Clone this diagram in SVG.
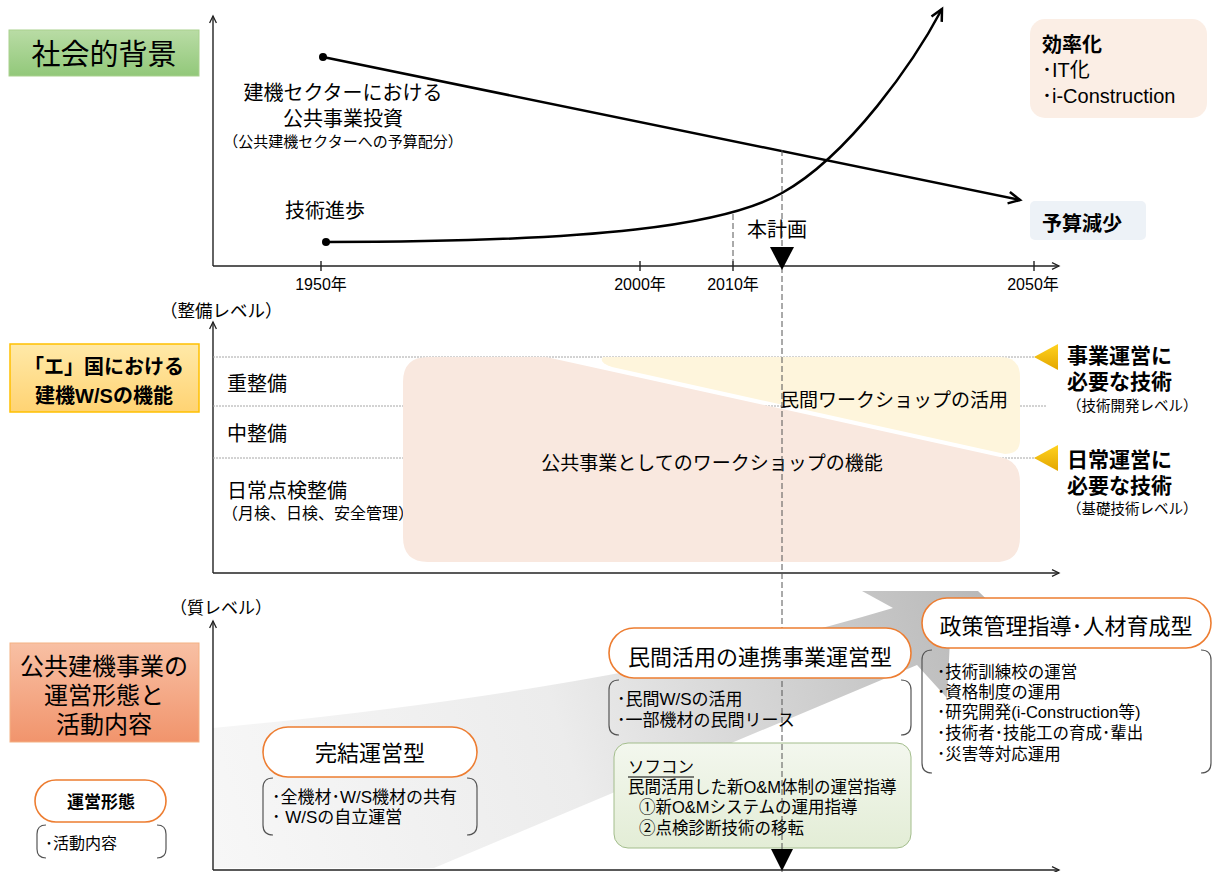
<svg xmlns="http://www.w3.org/2000/svg" width="1213" height="872" viewBox="0 0 1213 872">
<defs>
<style>
text{font-family:"Liberation Sans","Noto Sans CJK JP",sans-serif;fill:#000}
.m{text-anchor:middle}
.b{font-weight:bold}
.axis{stroke:#222;stroke-width:1.4;fill:none}
.dot{stroke:#a6a6a6;stroke-width:1;stroke-dasharray:2 1;fill:none}
.dash{stroke:#555;stroke-width:1;stroke-dasharray:6 3;fill:none}
.pill{fill:#fff;stroke:#ed7d31;stroke-width:1.6}
.brk{fill:none;stroke:#555;stroke-width:1.2}
.curve{stroke:#000;stroke-width:2.5;fill:none}
</style>
<marker id="ax" viewBox="0 0 8 8" refX="7.5" refY="4" markerWidth="8" markerHeight="8" markerUnits="userSpaceOnUse" orient="auto" overflow="visible">
<path d="M0.5,0.6 L7.5,4 L0.5,7.4" fill="none" stroke="#222" stroke-width="1.3"/>
</marker>
<marker id="ar" viewBox="0 0 14 14" refX="12.5" refY="7" markerWidth="14" markerHeight="14" markerUnits="userSpaceOnUse" orient="auto" overflow="visible">
<path d="M1,1.2 L12.5,7 L1,12.8" fill="none" stroke="#000" stroke-width="2.5"/>
</marker>
<linearGradient id="gGreen" x1="0" y1="0" x2="0" y2="1"><stop offset="0" stop-color="#b9dca5"/><stop offset="1" stop-color="#92c87a"/></linearGradient>
<linearGradient id="gGold" x1="0" y1="0" x2="0" y2="1"><stop offset="0" stop-color="#ffe9a8"/><stop offset="1" stop-color="#ffd373"/></linearGradient>
<linearGradient id="gSalmon" x1="0" y1="0" x2="0" y2="1"><stop offset="0" stop-color="#f8c0a4"/><stop offset="1" stop-color="#f1946c"/></linearGradient>
<linearGradient id="gGray" gradientUnits="userSpaceOnUse" x1="213" y1="850" x2="990" y2="600"><stop offset="0" stop-color="#f7f7f7"/><stop offset="0.45" stop-color="#ececec"/><stop offset="0.85" stop-color="#c6c6c6"/><stop offset="1" stop-color="#b8b8b8"/></linearGradient>
<linearGradient id="gTri" x1="0" y1="0" x2="0" y2="1"><stop offset="0" stop-color="#ffd21f"/><stop offset="1" stop-color="#e3a600"/></linearGradient>
<linearGradient id="gSof" x1="0" y1="0" x2="0" y2="1"><stop offset="0" stop-color="#f3f7ee"/><stop offset="1" stop-color="#e3edd6"/></linearGradient>
</defs>

<!-- ===== Top section: social background ===== -->
<g id="label-social">
<rect x="9" y="30" width="190" height="46" fill="url(#gGreen)" stroke="#a9d18e" stroke-width="1"/>
<text x="104" y="65" class="m" font-size="29">社会的背景</text>
</g>

<g id="top-axes">
<line class="axis" x1="213" y1="266" x2="213" y2="16" marker-end="url(#ax)"/>
<line class="axis" x1="213" y1="266" x2="1059" y2="266" marker-end="url(#ax)"/>
<path class="axis" d="M321,261V271M640,261V271M733,261V271M1034,261V271"/>
<text x="321" y="290" class="m" font-size="16">1950年</text>
<text x="640" y="290" class="m" font-size="16">2000年</text>
<text x="733" y="290" class="m" font-size="16">2010年</text>
<text x="1033" y="290" class="m" font-size="16">2050年</text>
</g>

<g id="connectors">
<line class="dash" x1="733" y1="214" x2="733" y2="266"/>
<path id="budget-line" class="curve" d="M323,57 L1020,200" marker-end="url(#ar)"/>
<circle cx="323" cy="57" r="4" fill="#000"/>
<path id="tech-line" class="curve" d="M326,242 C600,242 725,225 782,193 C850,155 915,60 942,9" marker-end="url(#ar)"/>
<circle cx="326" cy="242" r="4" fill="#000"/>
</g>

<g id="budget-label">
<text x="343" y="100" class="m" font-size="20">建機セクターにおける</text>
<text x="343" y="126" class="m" font-size="20">公共事業投資</text>
<text x="343" y="147" class="m" font-size="15" fill="#222">（公共建機セクターへの予算配分）</text>
</g>
<g id="tech-label">
<text x="325" y="218" class="m" font-size="20">技術進歩</text>
</g>

<g id="box-efficiency">
<rect x="1030" y="19" width="177" height="99" rx="15" fill="#fbeee5"/>
<text x="1042" y="52" font-size="20" class="b">効率化</text>
<text x="1042" y="77" font-size="20" fill="#333">･IT化</text>
<text x="1042" y="103" font-size="20" fill="#333">･i-Construction</text>
</g>
<g id="box-budget">
<rect x="1030" y="201" width="116" height="39" rx="5" fill="#edf2f7"/>
<text x="1042" y="231" font-size="20" class="b">予算減少</text>
</g>

<!-- ===== Middle section ===== -->
<g id="label-function">
<rect x="10" y="344" width="189" height="68" fill="url(#gGold)" stroke="#ffc000" stroke-width="1.5"/>
<text x="104" y="374" class="m b" font-size="20">「エ」国における</text>
<text x="104" y="403" class="m b" font-size="20">建機W/Sの機能</text>
</g>

<g id="mid-axes">
<text x="160" y="317" font-size="17.5">（整備レベル）</text>
<line class="axis" x1="213" y1="573" x2="213" y2="322" marker-end="url(#ax)"/>
<line class="axis" x1="213" y1="573" x2="1059" y2="573" marker-end="url(#ax)"/>
<line class="dot" x1="213" y1="357" x2="1036" y2="357"/>
<line class="dot" x1="213" y1="406" x2="1046" y2="406"/>
<line class="dot" x1="213" y1="458" x2="1036" y2="458"/>
</g>

<g id="level-labels">
<text x="227" y="391" font-size="20">重整備</text>
<text x="227" y="441" font-size="20">中整備</text>
<text x="227" y="498" font-size="20">日常点検整備</text>
<text x="222" y="519" font-size="16">（月検、日検、安全管理）</text>
</g>

<g id="area-private">
<path d="M603,357 L1000,357 Q1020,357 1020,377 L1020,440 Q1020,454 1005,454 L612,367 Q598,362 603,357 Z" fill="#fef5dc"/>
<text x="1008" y="407" font-size="19" text-anchor="end">民間ワークショップの活用</text>
</g>
<g id="area-public">
<path d="M428,357 L546,357 L1000,457 Q1020,461 1020,482 L1020,537 Q1020,562 995,562 L428,562 Q403,562 403,537 L403,382 Q403,357 428,357 Z" fill="#f9e8df"/>
<text x="712" y="470" class="m" font-size="19">公共事業としてのワークショップの機能</text>
</g>

<g id="marker-advanced">
<polygon points="1034,357 1058,344 1058,370" fill="url(#gTri)"/>
<text x="1067" y="363" font-size="21" class="b">事業運営に</text>
<text x="1067" y="389" font-size="21" class="b">必要な技術</text>
<text x="1067" y="411" font-size="14.5" fill="#333">（技術開発レベル）</text>
</g>
<g id="marker-basic">
<polygon points="1034,458 1058,445 1058,471" fill="url(#gTri)"/>
<text x="1067" y="467" font-size="21" class="b">日常運営に</text>
<text x="1067" y="493" font-size="21" class="b">必要な技術</text>
<text x="1067" y="514" font-size="14.5" fill="#333">（基礎技術レベル）</text>
</g>

<!-- ===== Bottom section ===== -->
<g id="label-operation">
<rect x="10" y="643" width="189" height="99" fill="url(#gSalmon)" stroke="#f4b183" stroke-width="1"/>
<text x="104" y="675" class="m" font-size="24">公共建機事業の</text>
<text x="104" y="704" class="m" font-size="24">運営形態と</text>
<text x="104" y="733" class="m" font-size="24">活動内容</text>
</g>

<g id="bottom-axes">
<text x="170" y="614" font-size="17">（質レベル）</text>
<path id="progress-arrow" d="M213,728 Q620,690 893,608 L862,591 L978,591 L1000,612 L950,640 L947,698 L917,665 L434,868 L213,868 Z" fill="url(#gGray)"/>
<line class="axis" x1="213" y1="870" x2="213" y2="621" marker-end="url(#ax)"/>
<line class="axis" x1="213" y1="870" x2="1059" y2="870" marker-end="url(#ax)"/>
</g>

<g id="node-sofcon">
<rect x="614" y="743" width="297" height="105" rx="14" fill="url(#gSof)" stroke="#a3bd8c" stroke-width="1"/>
<text x="628" y="773" font-size="16.5">ソフコン</text>
<line x1="628" y1="777" x2="694" y2="777" stroke="#000" stroke-width="1"/>
<text x="628" y="793" font-size="16.5">民間活用した新O&amp;M体制の運営指導</text>
<text x="639" y="813" font-size="16.5">①新O&amp;Mシステムの運用指導</text>
<text x="639" y="834" font-size="16.5">②点検診断技術の移転</text>
</g>

<g id="plan-line">
<line class="dash" x1="782" y1="150" x2="782" y2="872"/>
<polygon points="770,247 794,247 782,270" fill="#000"/>
<polygon points="771,849 793,849 782,871" fill="#000"/>
<text x="777" y="237" class="m" font-size="20">本計画</text>
</g>

<g id="node-complete">
<rect class="pill" x="263" y="727" width="214" height="50" rx="25"/>
<text x="370" y="761" class="m" font-size="22">完結運営型</text>
<path class="brk" d="M273,778 Q263,778 263,788 L263,825 Q263,835 273,835 M467,778 Q477,778 477,788 L477,825 Q477,835 467,835"/>
<text x="272" y="803" font-size="17">･全機材･W/S機材の共有</text>
<text x="272" y="823" font-size="17">･ W/Sの自立運営</text>
</g>

<g id="node-private">
<rect class="pill" x="609" y="628" width="302" height="50" rx="25"/>
<text x="760" y="665" class="m" font-size="22">民間活用の連携事業運営型</text>
<path class="brk" d="M619,680 Q609,680 609,690 L609,725 Q609,735 619,735 M901,680 Q911,680 911,690 L911,725 Q911,735 901,735"/>
<text x="617" y="705" font-size="17">･民間W/Sの活用</text>
<text x="617" y="726" font-size="17">･一部機材の民間リース</text>
</g>

<g id="node-policy">
<rect class="pill" x="922" y="598" width="289" height="50" rx="25"/>
<text x="1066" y="634" class="m" font-size="22">政策管理指導･人材育成型</text>
<path class="brk" d="M932,650 Q922,650 922,660 L922,763 Q922,773 932,773 M1201,650 Q1211,650 1211,660 L1211,763 Q1211,773 1201,773"/>
<text x="937" y="678" font-size="16.5">･技術訓練校の運営</text>
<text x="937" y="698" font-size="16.5">･資格制度の運用</text>
<text x="937" y="718" font-size="16.5">･研究開発(i-Construction等)</text>
<text x="937" y="739" font-size="16.5">･技術者･技能工の育成･輩出</text>
<text x="937" y="760" font-size="16.5">･災害等対応運用</text>
</g>

<g id="legend">
<rect class="pill" x="35" y="780" width="131" height="42" rx="21"/>
<text x="101" y="808" class="m b" font-size="17">運営形態</text>
<path class="brk" d="M46,825 Q37,825 37,834 L37,849 Q37,858 46,858 M157,825 Q166,825 166,834 L166,849 Q166,858 157,858"/>
<text x="45" y="849" font-size="16">･活動内容</text>
</g>
</svg>
